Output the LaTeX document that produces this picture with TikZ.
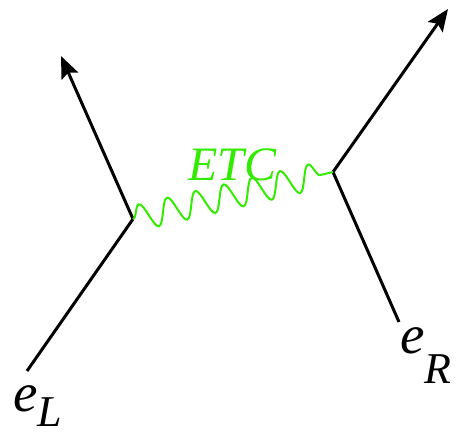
\documentclass[tikz,border=0pt]{standalone}
\usepackage{fontspec}
\setmainfont{Liberation Serif}
\newfontfamily\diagfont{Liberation Serif}
\usetikzlibrary{arrows.meta, decorations.pathmorphing}
\definecolor{etcgreen}{RGB}{51,235,0}
\newcommand{\fermionlabel}[3]{{\diagfont\fontsize{55}{55}\selectfont\itshape #1\raisebox{#3}{\fontsize{44}{44}\selectfont #2}}}

\begin{document}
\begin{tikzpicture}[x=1pt, y=-1pt,
		% Fermion line styles
		fermion/.style={line width=3pt, black},
		outgoing/.style={fermion, -{Stealth[length=22pt, width=18pt, inset=4pt]}},
		% Exchanged boson style
		boson/.style={etcgreen, line width=2pt, decorate, decoration={snake, amplitude=13pt, segment length=29pt}},
		flabel/.style={inner sep=0pt, anchor=base west}
		]
		\useasboundingbox (0,0) rectangle (464,432);
		
		% --- VERTICES ---
		\coordinate (vL) at (133,219);
		\coordinate (vR) at (333,172);
		
		% --- EXTERNAL ENDS ---
		\coordinate (inL) at (27,371);
		\coordinate (outL) at (61,56);
		\coordinate (inR) at (399,322);
		\coordinate (outR) at (448,9);
		
		% Left vertex
		\draw[fermion] (inL) -- (vL);
		\draw[outgoing] (vL) -- (outL);
		
		% Right vertex
		\draw[fermion] (inR) -- (vR);
		\draw[outgoing] (vR) -- (outR);
		
		% Exchange
		\draw[boson] (vL) -- (vR);
		\node[flabel, etcgreen] (etc) at (188,180) {\diagfont\fontsize{48}{48}\selectfont\itshape ETC};
		
		% Labels
		\node[flabel] (eL) at (13,411) {\fermionlabel{e}{L}{-15pt}};
		\node[flabel] (eR) at (400,353) {\fermionlabel{e}{R}{-30pt}};
		
	\end{tikzpicture}
\end{document}
